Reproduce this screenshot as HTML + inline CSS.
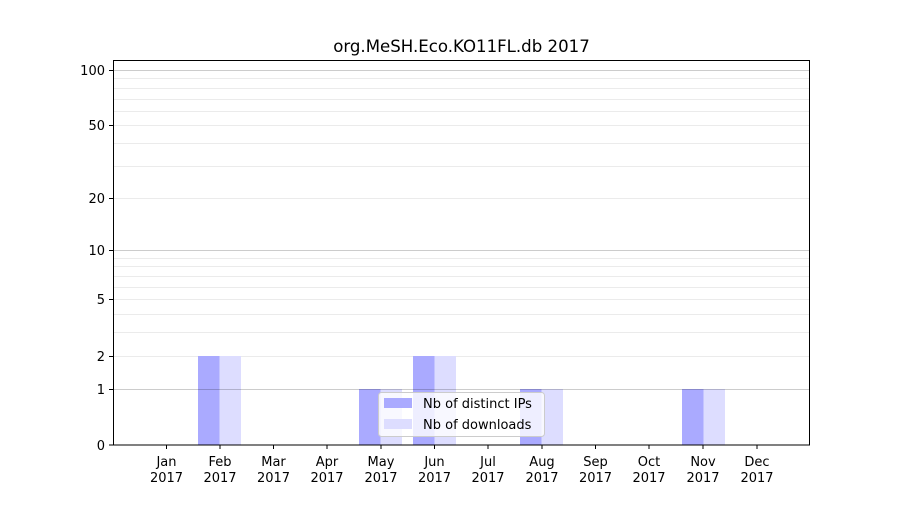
<!DOCTYPE html>
<html><head><style>body{margin:0;background:#fff}</style></head><body>
<svg width="900" height="500" xmlns="http://www.w3.org/2000/svg" font-family="DejaVu Sans, Liberation Sans, sans-serif" font-size="13">
<rect width="900" height="500" fill="#fff"/>
<g stroke="#ebebeb" stroke-width="1">
<line x1="113" x2="810" y1="78.5" y2="78.5"/><line x1="113" x2="810" y1="88.5" y2="88.5"/><line x1="113" x2="810" y1="99.5" y2="99.5"/><line x1="113" x2="810" y1="111.5" y2="111.5"/><line x1="113" x2="810" y1="125.5" y2="125.5"/><line x1="113" x2="810" y1="143.5" y2="143.5"/><line x1="113" x2="810" y1="166.5" y2="166.5"/><line x1="113" x2="810" y1="198.5" y2="198.5"/>
<line x1="113" x2="810" y1="258.5" y2="258.5"/><line x1="113" x2="810" y1="266.5" y2="266.5"/><line x1="113" x2="810" y1="276.5" y2="276.5"/><line x1="113" x2="810" y1="287.5" y2="287.5"/><line x1="113" x2="810" y1="299.5" y2="299.5"/><line x1="113" x2="810" y1="314.5" y2="314.5"/><line x1="113" x2="810" y1="332.5" y2="332.5"/><line x1="113" x2="810" y1="356.5" y2="356.5"/>
</g>
<g stroke="#cccccc"><line x1="113" x2="810" y1="70.5" y2="70.5"/><line x1="113" x2="810" y1="250.5" y2="250.5"/></g>
<g>
<rect x="198" y="356" width="21.5" height="89" fill="#aaaaff"/><rect x="219.5" y="356" width="21.5" height="89" fill="#ddddff"/>
<rect x="359" y="389" width="21.5" height="56" fill="#aaaaff"/><rect x="380.5" y="389" width="21.5" height="56" fill="#ddddff"/>
<rect x="413" y="356" width="21.5" height="89" fill="#aaaaff"/><rect x="434.5" y="356" width="21.5" height="89" fill="#ddddff"/>
<rect x="520" y="389" width="21.5" height="56" fill="#aaaaff"/><rect x="541.5" y="389" width="21.5" height="56" fill="#ddddff"/>
<rect x="682" y="389" width="21.5" height="56" fill="#aaaaff"/><rect x="703.5" y="389" width="21.5" height="56" fill="#ddddff"/>
</g>
<line x1="113" x2="810" y1="389.5" y2="389.5" stroke="#000" stroke-opacity="0.2"/>
<rect x="378.5" y="392.5" width="166" height="44" rx="3" fill="#fff" fill-opacity="0.8" stroke="#ccc"/>
<rect x="384" y="398" width="28" height="10" fill="#aaaaff"/><rect x="384" y="419" width="28" height="10" fill="#ddddff"/>
<text x="423" y="408">Nb of distinct IPs</text><text x="423" y="429">Nb of downloads</text>
<rect x="113.5" y="60.5" width="696" height="384.5" fill="none" stroke="#000"/>
<g stroke="#000">
<line x1="109" x2="113" y1="70.5" y2="70.5"/><line x1="109" x2="113" y1="125.5" y2="125.5"/><line x1="109" x2="113" y1="198.5" y2="198.5"/><line x1="109" x2="113" y1="250.5" y2="250.5"/><line x1="109" x2="113" y1="299.5" y2="299.5"/><line x1="109" x2="113" y1="356.5" y2="356.5"/><line x1="109" x2="113" y1="389.5" y2="389.5"/><line x1="109" x2="113" y1="445" y2="445"/>
</g>
<g text-anchor="end">
<text x="105" y="75">100</text><text x="105" y="130">50</text><text x="105" y="203">20</text><text x="105" y="255">10</text><text x="105" y="304">5</text><text x="105" y="361">2</text><text x="105" y="394">1</text><text x="105" y="450">0</text>
</g>
<g stroke="#000">
<line x1="166.5" x2="166.5" y1="445" y2="449"/><line x1="220" x2="220" y1="445" y2="449"/><line x1="273.5" x2="273.5" y1="445" y2="449"/><line x1="327" x2="327" y1="445" y2="449"/><line x1="381" x2="381" y1="445" y2="449"/><line x1="434.5" x2="434.5" y1="445" y2="449"/><line x1="488" x2="488" y1="445" y2="449"/><line x1="542" x2="542" y1="445" y2="449"/><line x1="595.5" x2="595.5" y1="445" y2="449"/><line x1="649" x2="649" y1="445" y2="449"/><line x1="703" x2="703" y1="445" y2="449"/><line x1="757" x2="757" y1="445" y2="449"/>
</g>
<g text-anchor="middle">
<text x="166.5" y="466">Jan</text><text x="166.5" y="482">2017</text>
<text x="220" y="466">Feb</text><text x="220" y="482">2017</text>
<text x="273.5" y="466">Mar</text><text x="273.5" y="482">2017</text>
<text x="327" y="466">Apr</text><text x="327" y="482">2017</text>
<text x="381" y="466">May</text><text x="381" y="482">2017</text>
<text x="434.5" y="466">Jun</text><text x="434.5" y="482">2017</text>
<text x="488" y="466">Jul</text><text x="488" y="482">2017</text>
<text x="542" y="466">Aug</text><text x="542" y="482">2017</text>
<text x="595.5" y="466">Sep</text><text x="595.5" y="482">2017</text>
<text x="649" y="466">Oct</text><text x="649" y="482">2017</text>
<text x="703" y="466">Nov</text><text x="703" y="482">2017</text>
<text x="757" y="466">Dec</text><text x="757" y="482">2017</text>
<text x="461.5" y="52" font-size="16.6">org.MeSH.Eco.KO11FL.db 2017</text>
</g>
</svg>
</body></html>
